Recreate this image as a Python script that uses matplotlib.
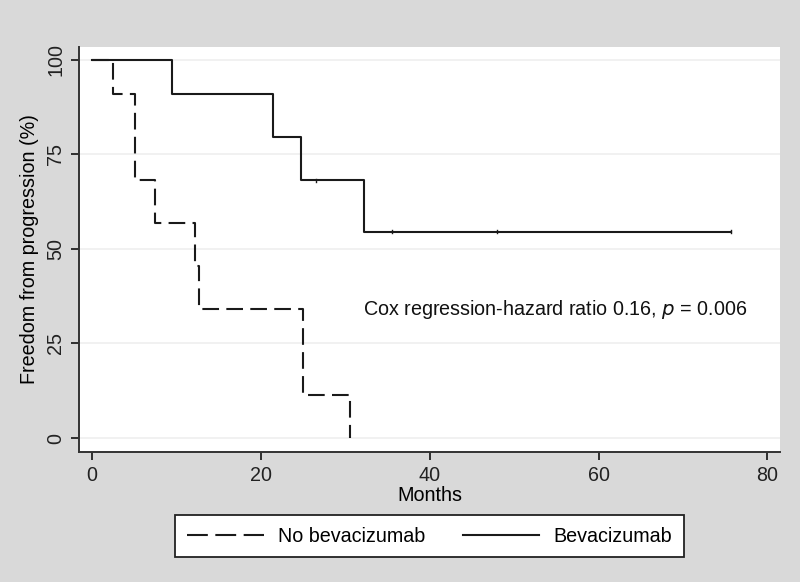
import matplotlib
matplotlib.use("Agg")
import matplotlib.pyplot as plt
from matplotlib.lines import Line2D
import numpy as np

plt.rcParams['font.family'] = ['Liberation Sans', 'DejaVu Sans']

# No bevacizumab: step times and survival (%)
nobev_t = [0, 2.5, 5.1, 7.5, 12.2, 12.7, 25.0, 30.5]
nobev_s = [100, 90.9, 68.2, 56.8, 45.5, 34.1, 11.4, 0]
# Bevacizumab
bev_t = [0, 9.5, 21.4, 24.8, 32.2, 75.7]
bev_s = [100, 90.9, 79.5, 68.2, 54.5, 54.5]
# censor marks for bevacizumab
bev_cens_t = [26.5, 35.5, 48.0, 75.7]
bev_cens_s = [68.2, 54.5, 54.5, 54.5]

xticks = [0, 20, 40, 60, 80]
yticks = [0, 25, 50, 75, 100]

FS = 14.2

fig = plt.figure(figsize=(8, 5.82), dpi=100)
fig.patch.set_facecolor('#d9d9d9')
ax = fig.add_axes([79/800, 1-452/582, (780-79)/800, (452-47)/582])
ax.set_facecolor('white')

for y in yticks:
    ax.axhline(y, color='#efefef', lw=1.2, zorder=0)

l1, = ax.step(nobev_t, nobev_s, where='post', color='#1a1a1a', lw=1.5,
              dashes=(8, 3.5), label='No bevacizumab')
l2, = ax.step(bev_t, bev_s, where='post', color='#1a1a1a', lw=1.5,
              label='Bevacizumab')
for t, s in zip(bev_cens_t, bev_cens_s):
    ax.plot([t, t], [s - 0.4, s + 0.4], color='#1a1a1a', lw=1.0)

ax.set_xlim(-1.55, 81.5)
ax.set_ylim(-3.7, 103.4)
ax.set_xticks(xticks)
ax.set_yticks(yticks)
ax.set_yticklabels([str(v) for v in yticks], rotation=90, va='center')
ax.tick_params(axis='both', direction='out', length=6, width=1.3, colors='#222222',
               labelsize=FS, pad=4)
for sp in ['top', 'right']:
    ax.spines[sp].set_visible(False)
for sp in ['left', 'bottom']:
    ax.spines[sp].set_linewidth(1.4)
    ax.spines[sp].set_color('#333333')

ax.set_xlabel('Months', fontsize=FS, labelpad=1)
ax.set_ylabel('Freedom from progression (%)', fontsize=FS, labelpad=5)

ax.text(32.1, 34.1, 'Cox regression-hazard ratio 0.16, $\\mathit{p}$ = 0.006',
        fontsize=FS, va='center', ha='left', color='#111111')

h1 = Line2D([], [], color='#1a1a1a', lw=1.5, dashes=(10, 3.6), label='No bevacizumab')
h2 = Line2D([], [], color='#1a1a1a', lw=1.5, label='Bevacizumab')
leg = fig.legend(handles=[h1, h2], loc='center', bbox_to_anchor=(429.5/800, 1-536/582),
                 ncol=2, frameon=True, fancybox=False, fontsize=FS, framealpha=1,
                 handlelength=3.9, columnspacing=1.9, borderpad=0.6, handletextpad=0.7,
                 borderaxespad=0)
leg.get_frame().set_edgecolor('#222222')
leg.get_frame().set_linewidth(1.3)
leg.get_frame().set_facecolor('white')

fig.savefig('out.png', dpi=100, facecolor=fig.get_facecolor())
